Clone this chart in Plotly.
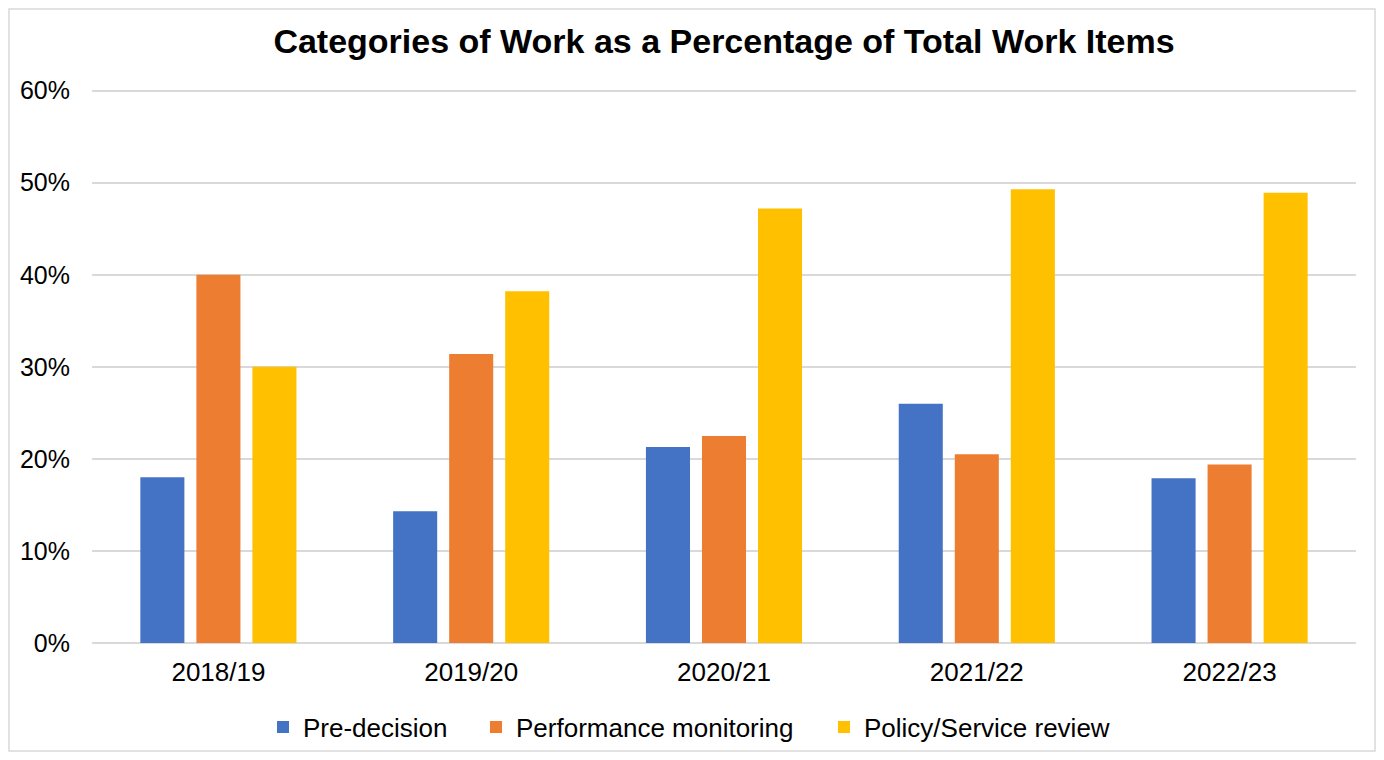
import plotly.graph_objects as go

years = ["2018/19", "2019/20", "2020/21", "2021/22", "2022/23"]
pre_decision = [0.180, 0.143, 0.213, 0.260, 0.179]
performance_monitoring = [0.400, 0.314, 0.225, 0.205, 0.194]
policy_service_review = [0.300, 0.382, 0.472, 0.493, 0.489]

series = [
    ("Pre-decision", pre_decision, "#4472C4", "legend"),
    ("Performance monitoring", performance_monitoring, "#ED7D31", "legend2"),
    ("Policy/Service review", policy_service_review, "#FFC000", "legend3"),
]

fig = go.Figure()
for name, vals, color, lg in series:
    fig.add_trace(go.Bar(x=years, y=vals, name=name, marker_color=color,
                         marker_line_width=0, legend=lg, showlegend=True))

W, H = 1368, 744
L, R, T, B = 84, 20, 79, 109
PW, PH = W - L - R, H - T - B

font = "Liberation Sans, Arial, sans-serif"


def leg(xpage):
    return dict(orientation="h", x=(xpage - 8 - L) / PW, xanchor="left", xref="paper",
                y=1 - 719 / H, yanchor="middle", yref="container",
                font=dict(family=font, size=26, color="black"), bgcolor="rgba(0,0,0,0)")


fig.update_layout(
    width=W, height=H,
    showlegend=True,
    margin=dict(l=L, r=R, t=T, b=B, pad=0),
    paper_bgcolor="white", plot_bgcolor="white",
    barmode="group", bargap=0.335, bargroupgap=0.214,
    title=dict(text="<b>Categories of Work as a Percentage of Total Work Items</b>",
               x=0.5, xanchor="center", xref="paper", yref="container",
               y=1 - 33.5 / H, yanchor="middle",
               font=dict(family=font, size=34, color="black")),
    font=dict(family=font, size=26, color="black"),
    legend=leg(263), legend2=leg(476), legend3=leg(824),
    yaxis=dict(range=[0, 0.604], tickvals=[0, 0.1, 0.2, 0.3, 0.4, 0.5, 0.6],
               tickformat=".0%", gridcolor="#d9d9d9",
               gridwidth=1.5, zeroline=True, zerolinecolor="#d9d9d9", zerolinewidth=1.5,
               showline=False, ticks="", ticklabelstandoff=21,
               tickfont=dict(size=25)),
    xaxis=dict(showline=False, ticks="", showgrid=False, tickfont=dict(size=26),
               ticklabelstandoff=11),
    shapes=[dict(type="rect", xref="paper", yref="paper",
                 x0=-(L - 1) / PW, x1=1 + (R - 1) / PW,
                 y0=-(B - 1) / PH, y1=1 + (T - 1) / PH,
                 line=dict(color="#d9d9d9", width=1.5), fillcolor="rgba(0,0,0,0)")],
)
fig.write_html("out.html")
